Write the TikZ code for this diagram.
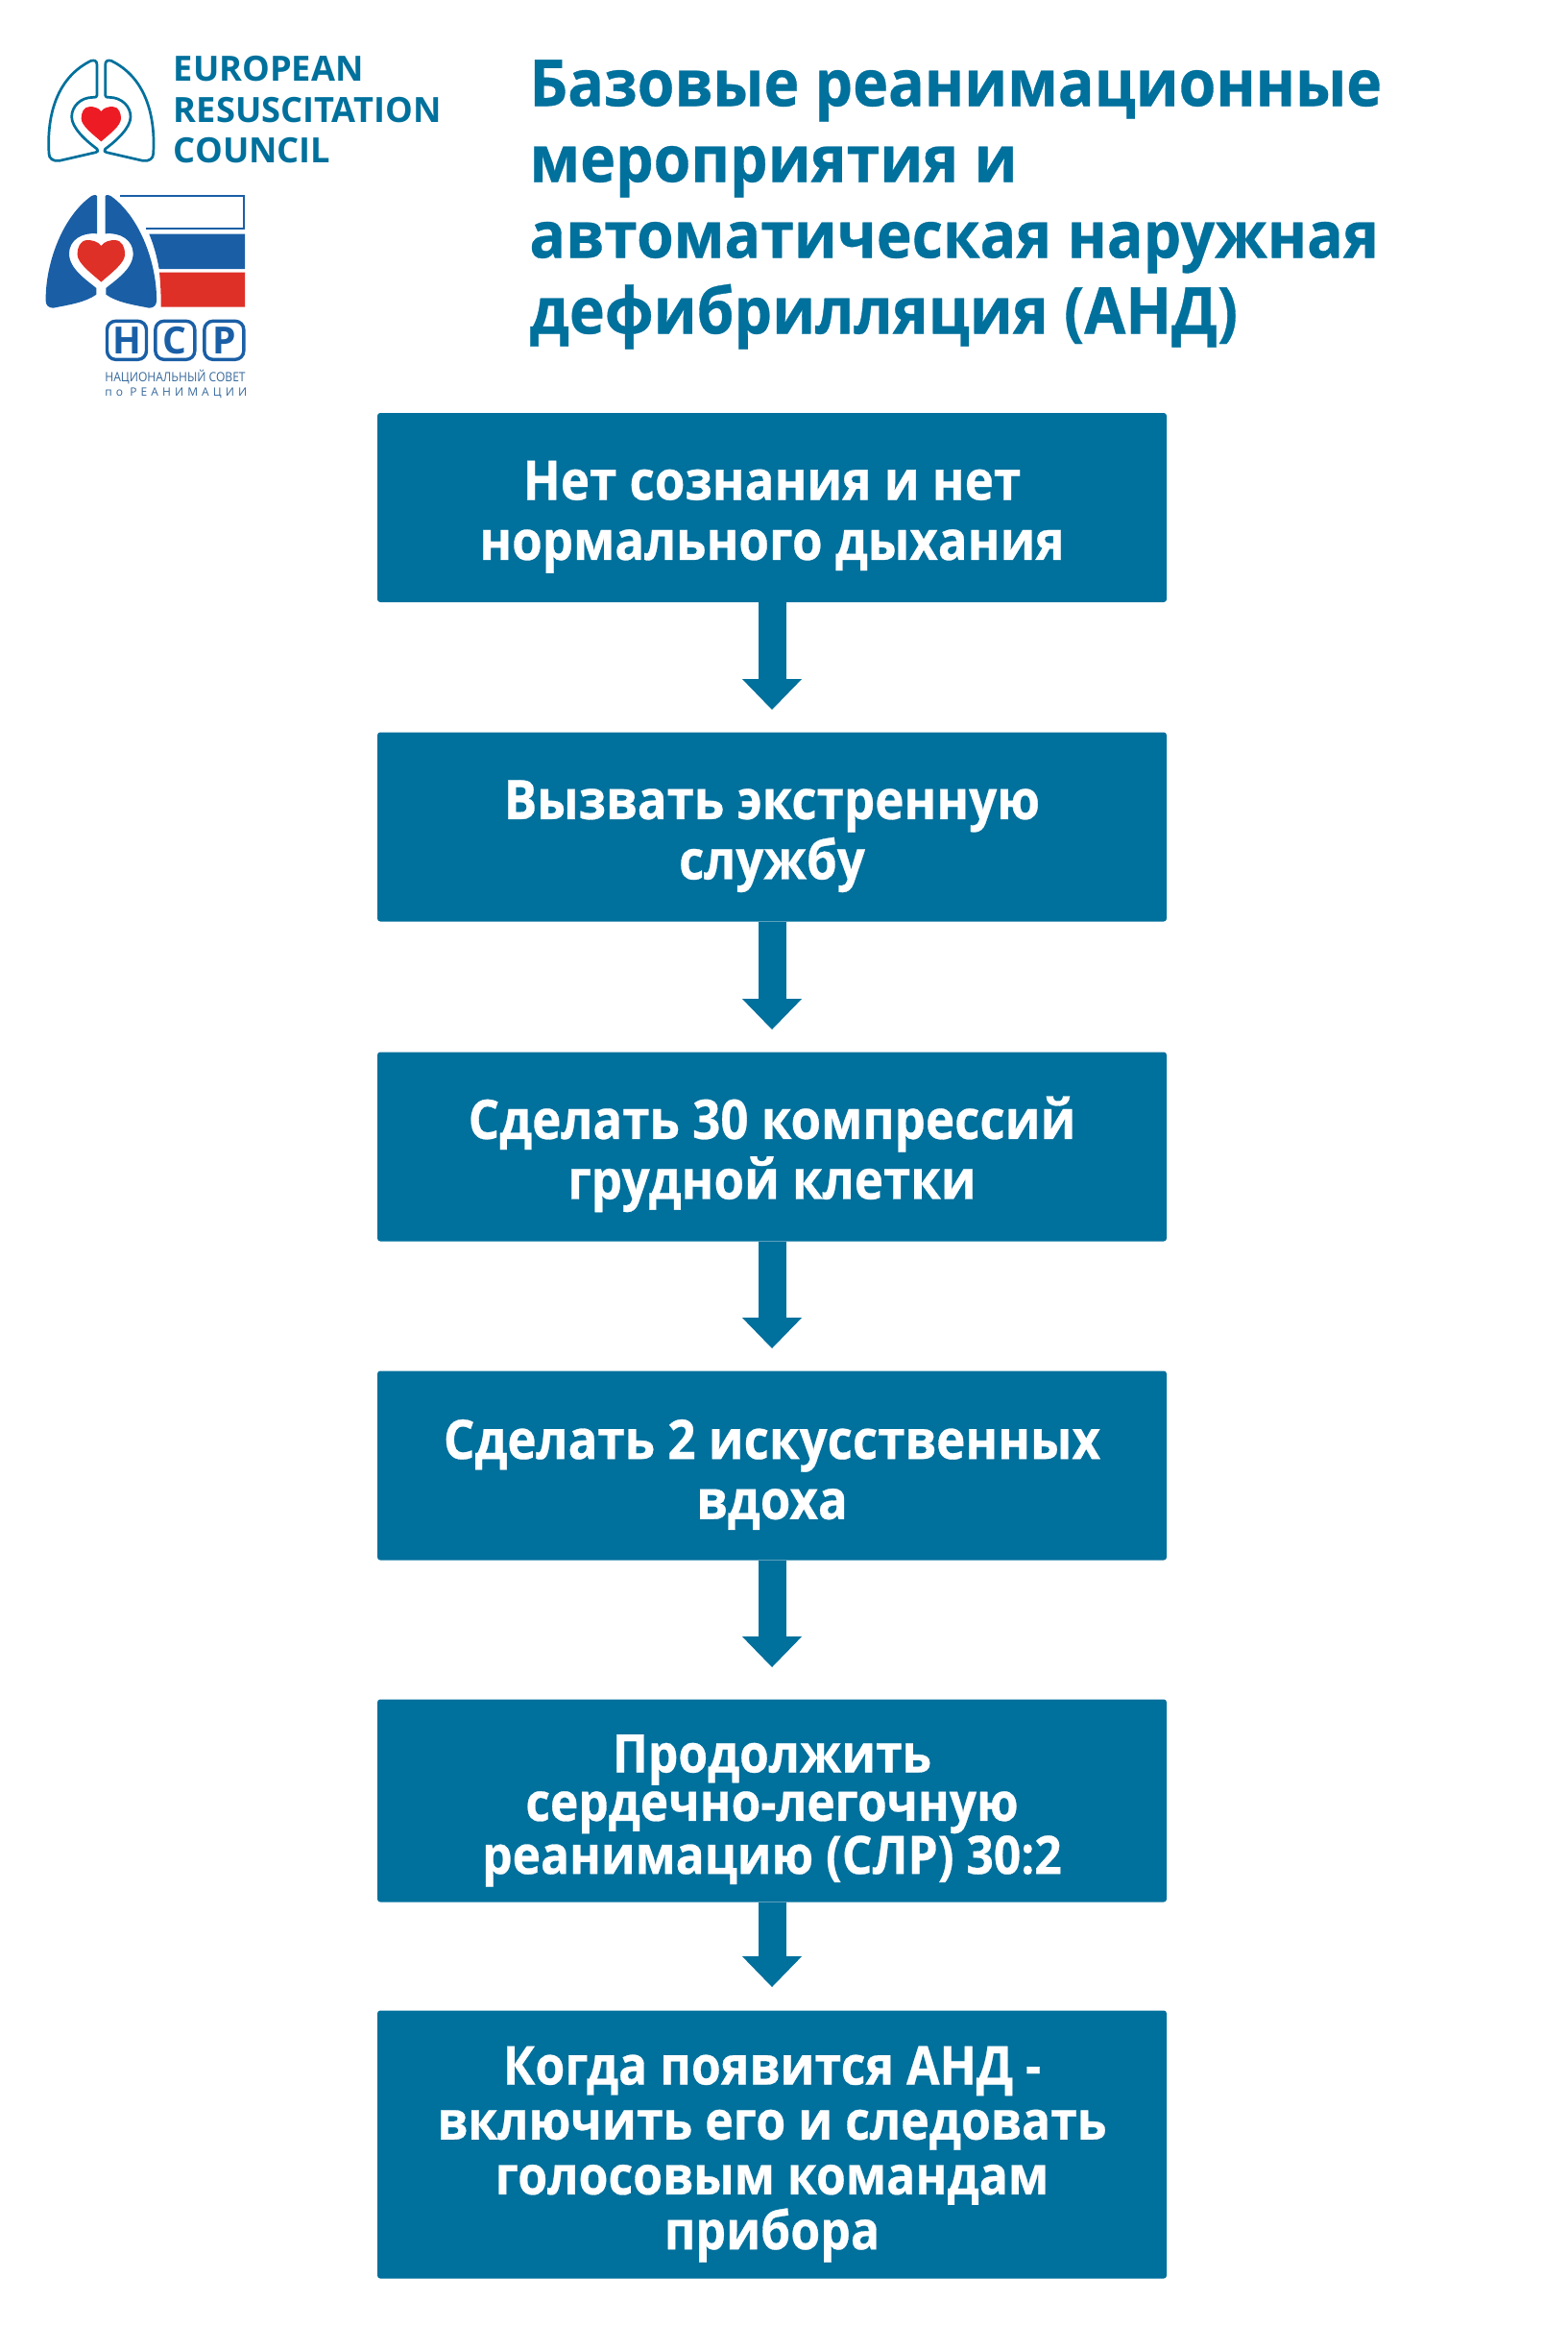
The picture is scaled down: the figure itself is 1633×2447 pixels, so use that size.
\documentclass[tikz,border=0pt]{standalone}
\usepackage{fontspec}
\setmainfont{Open Sans}
\newfontfamily\boxfont[FakeStretch=0.9,BoldFeatures={FakeBold=0.5}]{Open Sans}
\newfontfamily\titlefont[FakeStretch=0.93,BoldFeatures={FakeBold=0.5}]{Open Sans}
\newfontfamily\smallfont[FakeStretch=0.9]{Open Sans}
\newfontfamily\spacedfont[LetterSpace=34]{Open Sans}
\usetikzlibrary{arrows.meta}
\definecolor{teal}{HTML}{00709C}
\definecolor{ercred}{HTML}{ED1C24}
\definecolor{nsblue}{HTML}{1A5FA6}
\definecolor{nsred}{HTML}{DE3027}
\newcommand{\lift}{\rule{0pt}{30pt}}
\tikzset{
 stepbox/.style={fill=teal,text=white,rounded corners=1.5pt,inner sep=0pt,minimum width=411pt,align=center,font=\boxfont\bfseries\fontsize{28.4}{31.3}\selectfont},
 flowarrow/.style={draw=teal,line width=14.5pt,-{Triangle[length=16pt,width=30pt,fill=teal]}},
 ercline/.style={draw=teal,line width=1.35pt,line join=round},
 erctext/.style={anchor=base west,inner sep=0pt,text=teal,font=\bfseries\fontsize{18.1}{18.1}\selectfont},
 heartshape/.pic={\fill[pic actions] (0,0) .. controls (-8,-12) and (-25,-15) .. (-35,-15) .. controls (-55,-15) and (-62,5) .. (-62,22) .. controls (-62,45) and (-25,72) .. (0,94) .. controls (25,72) and (62,45) .. (62,22) .. controls (62,5) and (55,-15) .. (35,-15) .. controls (25,-15) and (8,-12) .. (0,0) -- cycle;},
 erclung/.pic={\draw[ercline] (-13,-150) -- (-13,-55) .. controls (-13,-49) and (-18,-49) .. (-25,-49) .. controls (-65,-49) and (-92,-20) .. (-92,12) .. controls (-92,45) and (-50,85) .. (-13,112) .. controls (-8,118) and (-10,122) .. (-17,123) -- (-130,149) .. controls (-150,152) and (-163,142) .. (-163,127) .. controls (-168,50) and (-160,-100) .. (-32,-163) .. controls (-20,-166) and (-13,-163) .. (-13,-150) -- cycle;},
 nslung/.pic={\fill[nsblue] (-13,-118) -- (-13,0) .. controls (-60,-5) and (-100,20) .. (-100,62) .. controls (-100,110) and (-45,145) .. (-15,170) -- (-15,190) .. controls (-50,215) and (-100,222) .. (-150,232) .. controls (-165,232) and (-173,222) .. (-173,210) .. controls (-175,100) and (-125,-50) .. (-30,-118) .. controls (-20,-122) and (-13,-122) .. (-13,-118) -- cycle;},
 nsbox/.style={draw=nsblue,line width=1.7pt,rounded corners=4.5pt,minimum width=20.5pt,minimum height=20pt,inner sep=0pt,text=nsblue,font=\bfseries\fontsize{19.5}{19.5}\selectfont},
}
\begin{document}
\begin{tikzpicture}[x=0.5pt,y=-0.5pt]
\useasboundingbox (0,0) rectangle (1633,2447);
\fill[white] (0,0) rectangle (1633,2447);

% title
\node[anchor=north west,inner sep=0pt,align=left,text=teal,font=\titlefont\bfseries\fontsize{33.6}{39.5}\selectfont] (title) at (551,62) {Базовые реанимационные\\мероприятия и\\автоматическая наружная\\дефибрилляция (АНД)};

% ERC logo text
\node[erctext] (erc1) at (180.5,84) {EUROPEAN};
\node[erctext] (erc2) at (180.5,127) {RESUSCITATION};
\node[erctext] (erc3) at (180.5,169) {COUNCIL};

% logos, drawn in the 3x crop coordinates
\begin{scope}[x=0.16667pt,y=-0.16667pt,yshift=-15pt]
 \pic at (316,263) {erclung};
 \pic[xscale=-1] at (316,263) {erclung};
 \pic[ercred] at (316,258) {heartshape};
 % NSR lungs
 \pic at (316,640) {nslung};
 \pic[xscale=-1] at (316,640) {nslung};
 \pic[scale=1.2,nsred] at (316,678) {heartshape};
 % flag
 \draw[nsblue,line width=1pt] (375,522) -- (763,522) -- (763,625) -- (455,625);
 \fill[nsblue] (466,641) -- (765,641) -- (765,750) .. controls (600,750) and (530,750) .. (497,750) .. controls (490,710) and (480,675) .. (466,641) -- cycle;
 \fill[nsred] (498,761) -- (765,761) -- (765,869) -- (503,869) .. controls (503,830) and (502,800) .. (498,761) -- cycle;
 % NSR boxes
 \node[nsbox] (nsh) at (396,973) {Н};
 \node[nsbox] (nsc) at (547,973) {С};
 \node[nsbox] (nsp) at (700,973) {Р};
 \node[anchor=base west,inner sep=0pt,text=nsblue!70!gray,font=\smallfont\fontsize{6.7}{6.7}\selectfont] (ns1) at (327,1103) {НАЦИОНАЛЬНЫЙ СОВЕТ};
 \node[anchor=base west,inner sep=0pt,text=nsblue!70!gray,font=\spacedfont\fontsize{6}{6}\selectfont] (ns2) at (327,1146) {по РЕАНИМАЦИИ};
\end{scope}

% flow boxes
\node[stepbox,minimum height=98.5pt] (b1) at (804,528.5) {\lift Нет сознания и нет\\нормального дыхания};
\node[stepbox,minimum height=98.5pt] (b2) at (804,861) {\lift Вызвать экстренную\\службу};
\node[stepbox,minimum height=98.5pt] (b3) at (804,1194) {\lift Сделать 30 компрессий\\грудной клетки};
\node[stepbox,minimum height=98.5pt] (b4) at (804,1526) {\lift Сделать 2 искусственных\\вдоха};
\node[stepbox,minimum height=105.5pt,font=\boxfont\bfseries\fontsize{27.6}{25.2}\selectfont] (b5) at (804,1875) {\lift Продолжить\\сердечно-легочную\\реанимацию (СЛР) 30:2};
\node[stepbox,minimum height=139.5pt,font=\boxfont\bfseries\fontsize{27.8}{28.6}\selectfont] (b6) at (804,2233) {\lift Когда появится АНД -\\включить его и следовать\\голосовым командам\\прибора};

% connectors
\draw[flowarrow,shorten >=11.5pt] (b1) -- (b2);
\draw[flowarrow,shorten >=11.5pt] (b2) -- (b3);
\draw[flowarrow,shorten >=11.5pt] (b3) -- (b4);
\draw[flowarrow,shorten >=16.5pt] (b4) -- (b5);
\draw[flowarrow,shorten >=12pt] (b5) -- (b6);
\end{tikzpicture}
\end{document}
